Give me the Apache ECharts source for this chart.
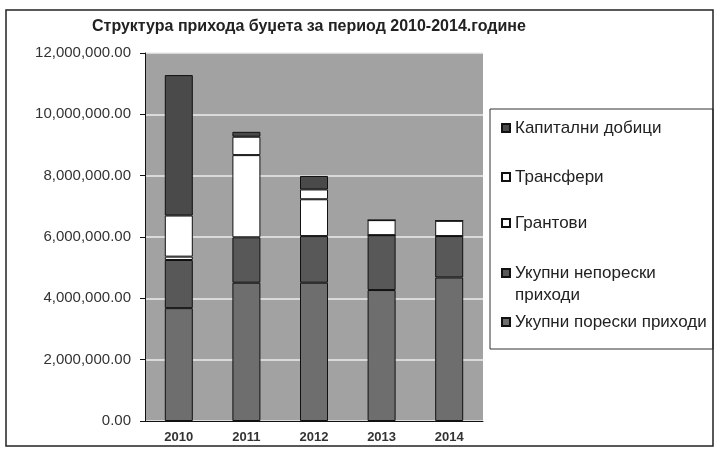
<!DOCTYPE html>
<html>
<head>
<meta charset="utf-8">
<script src="https://cdn.jsdelivr.net/npm/echarts@6/dist/echarts.min.js"></script>
<style>
  html, body { margin: 0; padding: 0; background: #fff; }
</style>
</head>
<body>
<div id="main" style="width: 716px;height:450px;"></div>
<script>
// године
var years = ['2010', '2011', '2012', '2013', '2014'];

// вредности по серијама (од дна стубића ка врху)
var poreskiPrihodi = [3680000, 4510000, 4510000, 4270000, 4680000];
var neporeskiPrihodi = [1570000, 1480000, 1520000, 1790000, 1350000];
var grantovi = [110000, 2680000, 1200000, 0, 0];
var transferi = [1340000, 600000, 320000, 490000, 500000];
var kapitalniDobici = [4580000, 160000, 440000, 0, 0];

var yTicks = [0, 2000000, 4000000, 6000000, 8000000, 10000000, 12000000];

var myChart = echarts.init(document.getElementById('main'));

function fmt(v) {
    return v.toLocaleString('en-US', { minimumFractionDigits: 2, maximumFractionDigits: 2 });
}

var font = 'Arial, "Liberation Sans", sans-serif';

// легенда - свака ставка посебно, као у Excel-у
function legendItem(name, top, fmtText, icon, ih) {
    return {
        data: [name],
        orient: 'vertical',
        left: 496,
        top: top,
        icon: icon || 'rect',
        itemWidth: 8,
        itemHeight: ih || 8,
        selectedMode: false,
        formatter: fmtText || '{name}',
        textStyle: { fontFamily: font, fontSize: 17, color: '#222', lineHeight: 22 }
    };
}

function barSeries(name, data, color) {
    return {
        name: name,
        type: 'bar',
        stack: 'total',
        barWidth: 28,
        data: data,
        itemStyle: { color: color, borderColor: '#111', borderWidth: 1 },
        emphasis: { disabled: true }
    };
}

myChart.setOption({
    animation: false,
    title: {
        text: 'Структура прихода буџета за период 2010-2014.године',
        left: 87,
        top: 14,
        textStyle: { fontFamily: font, fontSize: 16, fontWeight: 'bold', color: '#222' }
    },
    grid: {
        left: 145,
        right: 233,
        top: 53,
        bottom: 29,
        show: true,
        backgroundColor: '#a2a2a2',
        borderWidth: 0
    },
    legend: [
        legendItem('Капитални добици', 112),
        legendItem('Трансфери', 161),
        legendItem('Грантови', 207),
        // иконица уз први ред текста
        legendItem('Укупни непорески приходи', 257, function () { return 'Укупни непорески\nприходи'; },
            'path://M0,0L8,0L8,8L0,8Z M0,30', 30),
        legendItem('Укупни порески приходи', 306)
    ],
    xAxis: {
        type: 'category',
        data: years,
        axisLine: { lineStyle: { color: '#111', width: 1 } },
        axisTick: { show: false },
        axisLabel: { fontFamily: font, fontSize: 13, fontWeight: 'bold', color: '#333', margin: 10 }
    },
    yAxis: {
        type: 'value',
        min: yTicks[0],
        max: yTicks[yTicks.length - 1],
        interval: 2000000,
        axisLine: { show: true, lineStyle: { color: '#111', width: 1 } },
        axisTick: { show: true, length: 5, lineStyle: { color: '#111' } },
        splitLine: { lineStyle: { color: '#ececec', width: 1.5 } },
        axisLabel: { fontFamily: font, fontSize: 15, color: '#333', margin: 14, formatter: fmt }
    },
    series: [
        barSeries('Укупни порески приходи', poreskiPrihodi, '#6e6e6e'),
        barSeries('Укупни непорески приходи', neporeskiPrihodi, '#585858'),
        barSeries('Грантови', grantovi, '#ffffff'),
        barSeries('Трансфери', transferi, '#ffffff'),
        barSeries('Капитални добици', kapitalniDobici, '#4a4a4a')
    ],
    graphic: [
        // оквир легенде
        { type: 'rect', shape: { x: 490, y: 109, width: 223, height: 240 }, style: { fill: 'none', stroke: '#333', lineWidth: 1 }, z: -1 },
        // оквир целог графикона
        { type: 'rect', shape: { x: 6, y: 10, width: 707, height: 436 }, style: { fill: 'none', stroke: '#222', lineWidth: 1.5 }, z: -1 }
    ]
});
</script>
</body>
</html>
